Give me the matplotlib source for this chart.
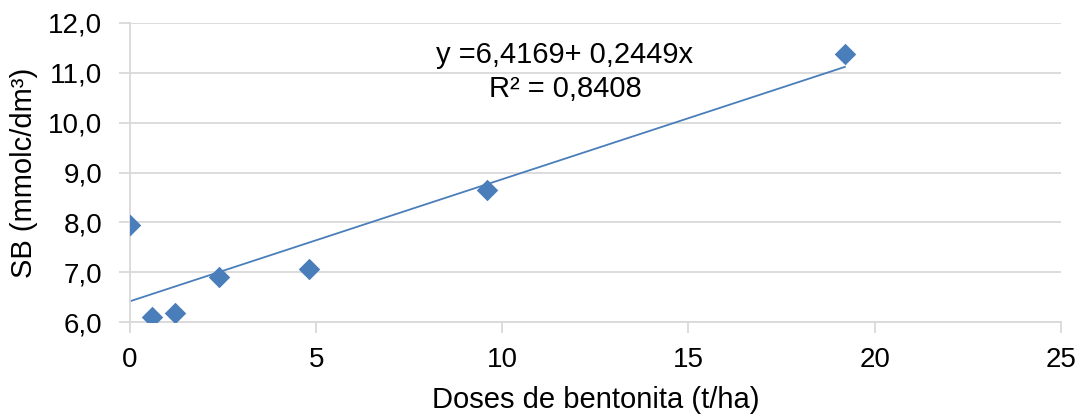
import matplotlib
matplotlib.use("Agg")
import matplotlib.pyplot as plt
import numpy as np
from matplotlib.ticker import FuncFormatter, MultipleLocator

plt.rcParams['font.family'] = ['Liberation Sans', 'DejaVu Sans']

# Bentonite doses (t/ha) and sum of bases SB (mmolc/dm³)
doses = [0, 0.6, 1.2, 2.4, 4.8, 9.6, 19.2]
sb = [7.95, 6.10, 6.19, 6.91, 7.06, 8.65, 11.38]

# Linear trend parameters
intercept = 6.4169
slope = 0.2449
r2 = 0.8408

blue = '#4A7EBB'
grid_gray = '#D9D9D9'

fig = plt.figure(figsize=(10.88, 4.15), dpi=100)
ax = fig.add_axes([0.1195, 0.224, 0.8555, 0.7206])

ax.scatter(doses, sb, marker='D', s=120, color=blue, zorder=3, linewidths=0)

xt = np.array([min(doses), max(doses)])
ax.plot(xt, intercept + slope * xt, color=blue, lw=1.3, zorder=2)

ax.set_xlim(0, 25)
ax.set_ylim(6, 12)
ax.xaxis.set_major_locator(MultipleLocator(5))
ax.yaxis.set_major_locator(MultipleLocator(1))
ax.yaxis.set_major_formatter(FuncFormatter(lambda v, p: f"{v:.1f}".replace('.', ',')))

ax.grid(axis='y', color=grid_gray, lw=1.3)
ax.set_axisbelow(True)
for side in ('top', 'right'):
    ax.spines[side].set_visible(False)
for side in ('left', 'bottom'):
    ax.spines[side].set_color(grid_gray)
    ax.spines[side].set_linewidth(1.3)
ax.tick_params(axis='both', colors=grid_gray, length=8, width=1.3,
               labelsize=20, labelcolor='black')
ax.tick_params(axis='x', pad=10)
ax.tick_params(axis='y', pad=12)

ax.set_xlabel('Doses de bentonita (t/ha)', fontsize=21, labelpad=9)
ax.set_ylabel('SB (mmolc/dm³)', fontsize=21, labelpad=7)

eq = f"y ={intercept:.4f}+ {slope:.4f}x".replace('.', ',')
r2txt = f"R² = {r2:.4f}".replace('.', ',')
ax.text(11.68, 11.36, eq, ha='center', va='center', fontsize=21)
ax.text(11.68, 10.67, r2txt, ha='center', va='center', fontsize=21)

fig.savefig('out.png', dpi=100)
